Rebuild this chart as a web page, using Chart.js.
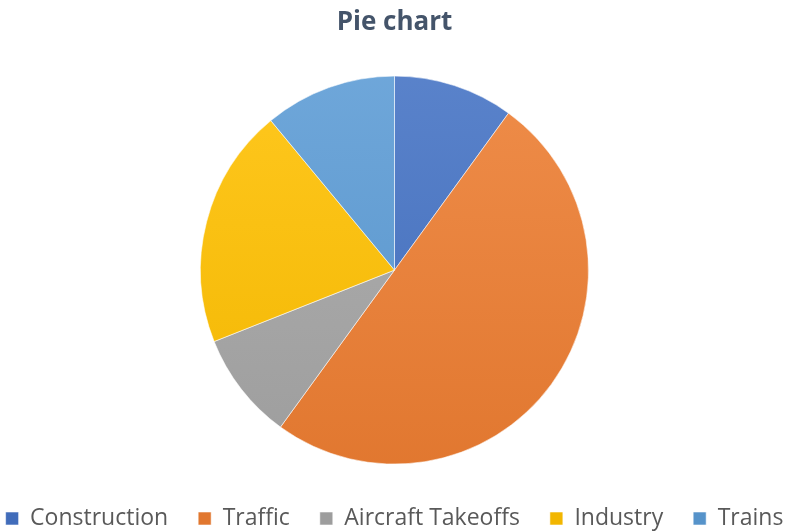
<!DOCTYPE html>
<html>
<head>
<meta charset="utf-8">
<script src="https://cdn.jsdelivr.net/npm/chart.js@4"></script>
<style>
  html, body { margin: 0; padding: 0; background: #fff; }
  #wrap { width: 789px; height: 531px; }
</style>
</head>
<body>
<div id="wrap"><canvas id="pie"></canvas></div>
<script>
const categories = ["Construction", "Traffic", "Aircraft Takeoffs", "Industry", "Trains"];
const shares = [10, 50, 9, 20, 11];
const sliceColors = ["#4472C4", "#ED7D31", "#A5A5A5", "#FFC000", "#5B9BD5"];

// lighten a hex colour by mixing it with white
function tint(hex, amt) {
  const n = parseInt(hex.slice(1), 16);
  const r = (n >> 16) & 255, g = (n >> 8) & 255, b = n & 255;
  const mix = c => Math.round(c + (255 - c) * amt);
  return `rgb(${mix(r)},${mix(g)},${mix(b)})`;
}
function shade(hex, amt) {
  const n = parseInt(hex.slice(1), 16);
  const r = (n >> 16) & 255, g = (n >> 8) & 255, b = n & 255;
  const mix = c => Math.round(c * (1 - amt));
  return `rgb(${mix(r)},${mix(g)},${mix(b)})`;
}

// soft top-to-bottom shading on each slice
function sliceFill(ctx) {
  const chart = ctx.chart;
  const area = chart.chartArea;
  const base = sliceColors[ctx.dataIndex];
  if (!area) return base;
  const g = chart.ctx.createLinearGradient(0, area.top, 0, area.bottom);
  g.addColorStop(0, tint(base, 0.12));
  g.addColorStop(1, shade(base, 0.05));
  return g;
}

new Chart(document.getElementById("pie"), {
  type: "pie",
  data: {
    labels: categories,
    datasets: [{
      data: shares,
      backgroundColor: sliceFill,
      borderColor: "rgba(255,255,255,0.55)",
      borderWidth: 1,
      radius: 194
    }]
  },
  options: {
    responsive: true,
    maintainAspectRatio: false,
    animation: false,
    events: [],
    // wider than the canvas so the legend stays on one line
    layout: { padding: { left: -25, right: -25, top: 0, bottom: -9 } },
    plugins: {
      title: {
        display: true,
        text: "Pie chart",
        color: "#44546A",
        font: { family: "'Open Sans'", size: 26, weight: "bold" },
        padding: { top: 7, bottom: 25 }
      },
      legend: {
        position: "bottom",
        labels: {
          color: "#595959",
          font: { family: "'Open Sans'", size: 23 },
          boxWidth: 13,
          boxHeight: 13,
          padding: 30
        }
      },
      tooltip: { enabled: false }
    }
  }
});
</script>
</body>
</html>
